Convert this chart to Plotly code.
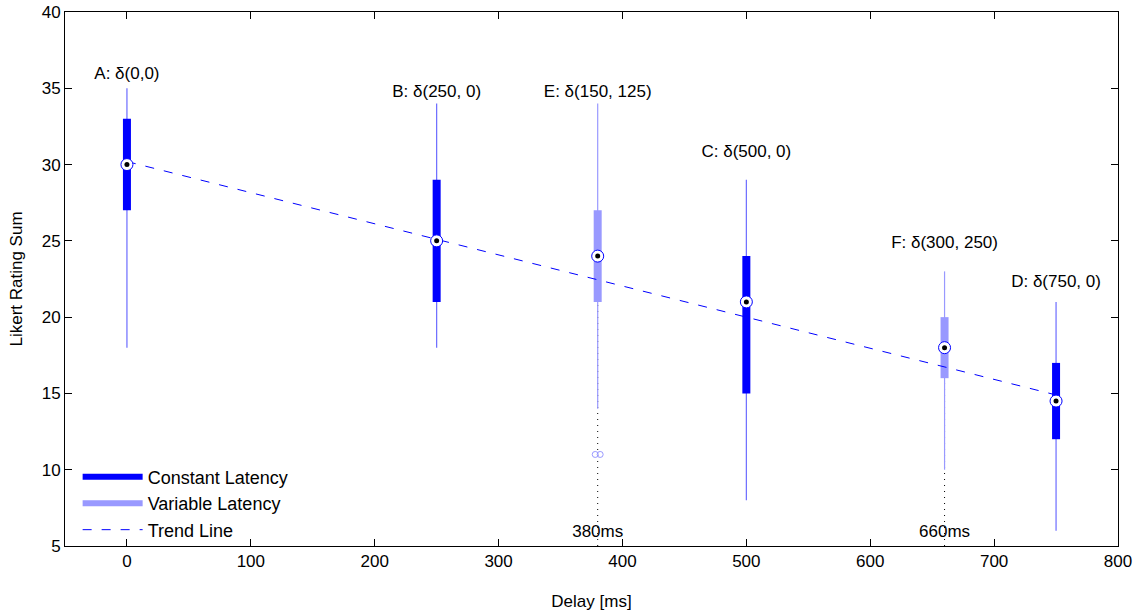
import plotly.graph_objects as go

# ---- data ----
labels = ["A: δ(0,0)", "B: δ(250, 0)", "E: δ(150, 125)", "C: δ(500, 0)", "F: δ(300, 250)", "D: δ(750, 0)"]
delays = [0, 250, 380, 500, 660, 750]
kind = ["const", "const", "var", "const", "var", "const"]
wlow = [18, 18, 14, 8, 10, 6]
q1 = [27, 21, 21, 15, 16, 12]
median = [30, 25, 24, 21, 18, 14.5]
q3 = [33, 29, 27, 24, 20, 17]
whigh = [35, 34, 34, 29, 23, 21]
label_y = [35.9, 34.7, 34.7, 30.75, 24.8, 22.25]
outlier_x = [378, 382]
outlier_y = [11, 11]
trend_x = [0, 750]
trend_y = [30.2, 14.9]
marker_notes_x = [380, 660]
marker_notes = ["380ms", "660ms"]

C_CONST = "#0000ff"
C_WHISK = "#6b6bff"
C_VAR = "#9999ff"
FONT = "Liberation Sans, Arial"

fig = go.Figure()

# dotted reference lines for variable-latency conditions
for xv, i in zip(marker_notes_x, [2, 4]):
    fig.add_trace(go.Scatter(x=[xv, xv], y=[5, q1[i]], mode="lines",
                             line=dict(color="black", width=1, dash="1px,5px"),
                             showlegend=False, hoverinfo="skip"))

for i, x in enumerate(delays):
    col = C_CONST if kind[i] == "const" else C_VAR
    wcol = C_WHISK if kind[i] == "const" else C_VAR
    fig.add_trace(go.Scatter(x=[x, x], y=[wlow[i], whigh[i]], mode="lines",
                             line=dict(color=wcol, width=1.2), showlegend=False, hoverinfo="skip"))
    fig.add_trace(go.Scatter(x=[x, x], y=[q1[i], q3[i]], mode="lines",
                             line=dict(color=col, width=8), showlegend=False, hoverinfo="skip"))

# trend line
fig.add_trace(go.Scatter(x=trend_x, y=trend_y, mode="lines",
                         line=dict(color=C_CONST, width=1, dash="9px,10px"),
                         name="Trend Line", showlegend=False))

# medians
fig.add_trace(go.Scatter(x=delays, y=median, mode="markers",
                         marker=dict(size=12, color="white", line=dict(color=C_CONST, width=1)),
                         showlegend=False, hoverinfo="skip"))
fig.add_trace(go.Scatter(x=delays, y=median, mode="markers",
                         marker=dict(size=5, color="black"),
                         showlegend=False))

# outliers
fig.add_trace(go.Scatter(x=outlier_x, y=outlier_y, mode="markers",
                         marker=dict(size=6, color="rgba(0,0,0,0)", line=dict(color=C_VAR, width=1)),
                         showlegend=False))

# legend entries
fig.add_trace(go.Scatter(x=[None], y=[None], mode="lines", line=dict(color=C_CONST, width=6), name="Constant Latency"))
fig.add_trace(go.Scatter(x=[None], y=[None], mode="lines", line=dict(color=C_VAR, width=6), name="Variable Latency"))
fig.add_trace(go.Scatter(x=[None], y=[None], mode="lines", line=dict(color=C_CONST, width=1, dash="9px,10px"), name="Trend Line"))

# text labels
fig.add_trace(go.Scatter(x=delays, y=label_y, mode="text", text=labels,
                         textfont=dict(size=17, color="black", family=FONT),
                         textposition="middle center", showlegend=False, hoverinfo="skip"))
fig.add_trace(go.Scatter(x=marker_notes_x, y=[5.9, 5.9], mode="text", text=marker_notes,
                         textfont=dict(size=17, color="black", family=FONT),
                         textposition="middle center", showlegend=False, hoverinfo="skip"))

axis_common = dict(showgrid=False, zeroline=False, showline=True, linecolor="black", linewidth=1,
                   mirror="ticks", ticks="inside", ticklen=7, tickcolor="black", automargin=False,
                   tickfont=dict(size=17, color="black", family=FONT))

fig.update_layout(
    width=1148, height=615,
    margin=dict(l=65, r=30, t=12, b=69),
    plot_bgcolor="white", paper_bgcolor="white",
    font=dict(family=FONT, color="black"),
    xaxis=dict(range=[-50, 800], tickvals=[0, 100, 200, 300, 400, 500, 600, 700, 800],
               title=dict(text="Delay [ms]", font=dict(size=17), standoff=24), **axis_common),
    yaxis=dict(range=[5, 40], tickvals=[5, 10, 15, 20, 25, 30, 35, 40],
               title=dict(text="Likert Rating Sum", font=dict(size=17), standoff=14), **axis_common),
    legend=dict(x=0.012, y=-0.005, xanchor="left", yanchor="bottom", bgcolor="rgba(0,0,0,0)",
                font=dict(size=18, color="black"), itemwidth=60, tracegroupgap=0),
)

fig.write_html("out.html")
